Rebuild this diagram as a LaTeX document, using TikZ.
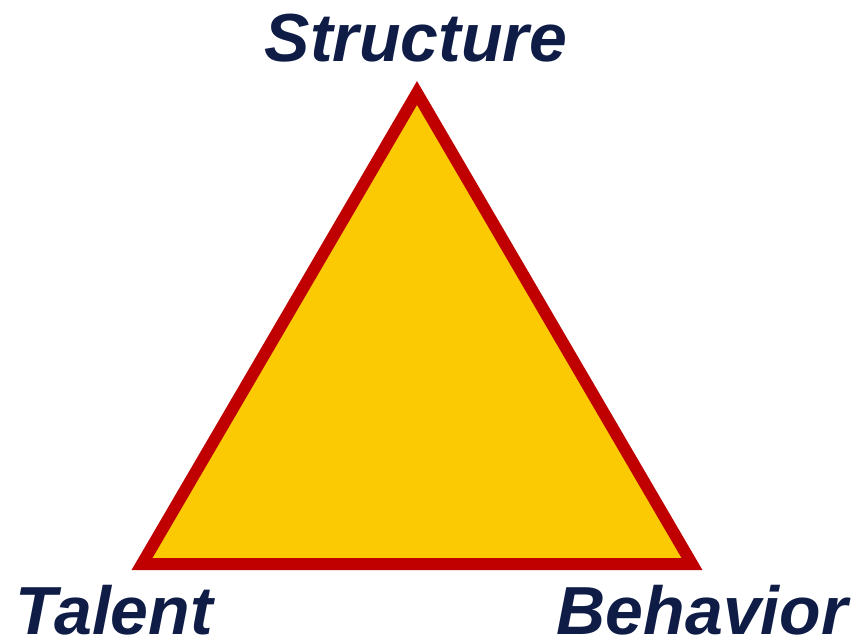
\documentclass[tikz,border=0pt]{standalone}
\usepackage{fontspec}
\setmainfont{Liberation Sans}
\usepackage{tikz}
\definecolor{triyellow}{HTML}{FCCA03}
\definecolor{trired}{HTML}{C00000}
\definecolor{labelnavy}{HTML}{0F1D46}
\begin{document}
\begin{tikzpicture}[x=1pt, y=1pt, line join=miter]
\tikzset{corner/.style={font=\fontsize{68}{68}\selectfont\bfseries\itshape, text=labelnavy, inner sep=0pt, text depth=0pt}}
\useasboundingbox (0,0) rectangle (864,641);
\coordinate (S) at (417,548);
\coordinate (T) at (142,77);
\coordinate (B) at (692,77);
\draw[line width=12pt, draw=trired, fill=triyellow] (T) -- (S) -- (B) -- cycle;
\node[corner, anchor=base] (structure) at (416,579) {Structure};
\node[corner, anchor=base west] (talent) at (15,7) {Talent};
\node[corner, anchor=base east] (behavior) at (848,7) {Behavior};
\end{tikzpicture}
\end{document}
